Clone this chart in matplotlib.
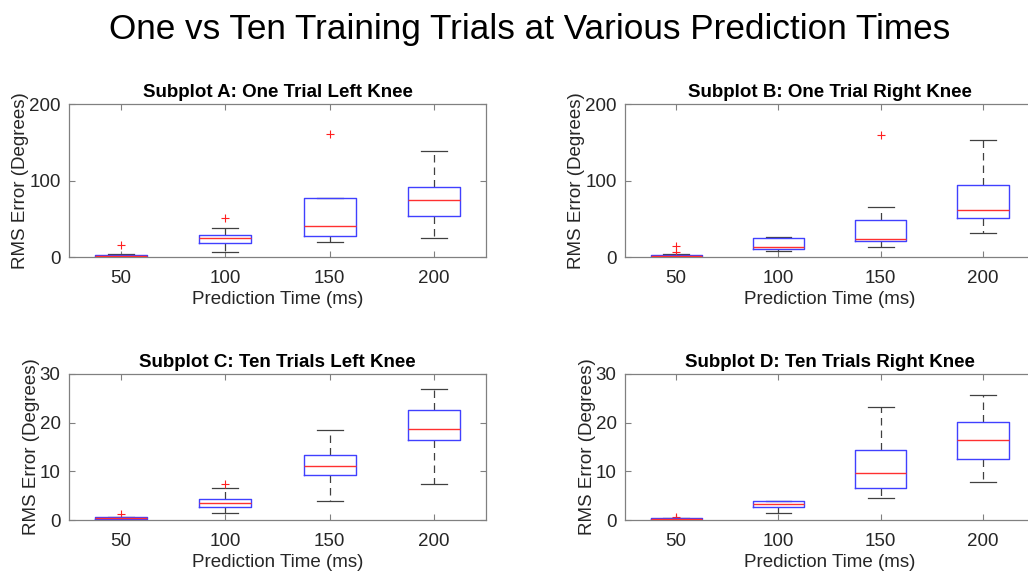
import matplotlib.pyplot as plt

plt.rcParams['font.family'] = ['Liberation Sans', 'DejaVu Sans']

times = [50, 100, 150, 200]

# each row: lower whisker, q1, median, q3, upper whisker
a_stats = [[0.0, 0.5, 1.5, 3.0, 4.0],
           [7.0, 18.0, 25.0, 29.0, 37.5],
           [19.5, 28.0, 41.0, 77.0, 77.0],
           [25.0, 53.5, 75.0, 92.0, 138.5]]
a_fliers = [[15.5], [51.0], [161.0], []]

b_stats = [[0.0, 0.5, 1.5, 3.0, 3.5],
           [8.0, 10.5, 13.5, 24.5, 26.5],
           [13.5, 20.5, 24.0, 48.5, 66.0],
           [31.5, 51.0, 61.5, 93.5, 153.5]]
b_fliers = [[6.0, 14.5], [], [159.0], []]

c_stats = [[0.1, 0.2, 0.4, 0.6, 0.7],
           [1.5, 2.7, 3.5, 4.3, 6.6],
           [4.0, 9.2, 11.0, 13.3, 18.5],
           [7.5, 16.4, 18.6, 22.6, 26.9]]
c_fliers = [[1.2], [7.5], [], []]

d_stats = [[0.1, 0.2, 0.3, 0.4, 0.5],
           [1.5, 2.6, 3.3, 3.9, 4.0],
           [4.5, 6.6, 9.6, 14.3, 23.3],
           [7.8, 12.6, 16.4, 20.2, 25.7]]
d_fliers = [[0.3, 0.55], [], [], []]


def draw_panel(ax, stats, fliers, title, ymax, yticks):
    boxes = [dict(whislo=s[0], q1=s[1], med=s[2], q3=s[3], whishi=s[4], fliers=f)
             for s, f in zip(stats, fliers)]
    ax.bxp(boxes, positions=[1, 2, 3, 4], widths=0.5, capwidths=0.25,
           manage_ticks=False,
           boxprops=dict(color='#4040ff', lw=1.0, zorder=3),
           medianprops=dict(color='#ff3030', lw=1.0, zorder=4),
           whiskerprops=dict(color='#404040', lw=0.9, ls=(0, (6, 4)), zorder=2),
           capprops=dict(color='#404040', lw=0.9, zorder=2),
           flierprops=dict(marker='+', markeredgecolor='#ff2020',
                           markersize=6, markeredgewidth=0.8, ls='none'))
    ax.set_xlim(0.5, 4.5)
    ax.set_ylim(0, ymax)
    ax.set_xticks([1, 2, 3, 4])
    ax.set_xticklabels([str(t) for t in times])
    ax.set_yticks(yticks)
    ax.tick_params(direction='in', top=True, right=True, length=4,
                   color='#808080', labelcolor='#262626', labelsize=13.5)
    ax.tick_params(axis='x', pad=9)
    ax.tick_params(axis='y', pad=6)
    for sp in ax.spines.values():
        sp.set_color('#808080')
        sp.set_linewidth(0.9)
    ax.set_title(title, fontsize=13.5, fontweight='bold', pad=5)
    ax.set_xlabel('Prediction Time (ms)', fontsize=13.5, color='#262626', labelpad=3)
    ax.set_ylabel('RMS Error (Degrees)', fontsize=13.5, color='#262626', labelpad=0)


fig = plt.figure(figsize=(10.28, 5.76), dpi=100)
ax_a = fig.add_axes([0.0671, 0.5538, 0.4056, 0.2656])
ax_b = fig.add_axes([0.6080, 0.5538, 0.3980, 0.2656])
ax_c = fig.add_axes([0.0671, 0.0972, 0.4056, 0.2535])
ax_d = fig.add_axes([0.6080, 0.0972, 0.3980, 0.2535])

draw_panel(ax_a, a_stats, a_fliers, 'Subplot A: One Trial Left Knee', 200, [0, 100, 200])
draw_panel(ax_b, b_stats, b_fliers, 'Subplot B: One Trial Right Knee', 200, [0, 100, 200])
draw_panel(ax_c, c_stats, c_fliers, 'Subplot C: Ten Trials Left Knee', 30, [0, 10, 20, 30])
draw_panel(ax_d, d_stats, d_fliers, 'Subplot D: Ten Trials Right Knee', 30, [0, 10, 20, 30])

fig.text(0.5156, 0.948, 'One vs Ten Training Trials at Various Prediction Times',
         ha='center', va='center', fontsize=25.3)

fig.savefig('out.png', dpi=100)
